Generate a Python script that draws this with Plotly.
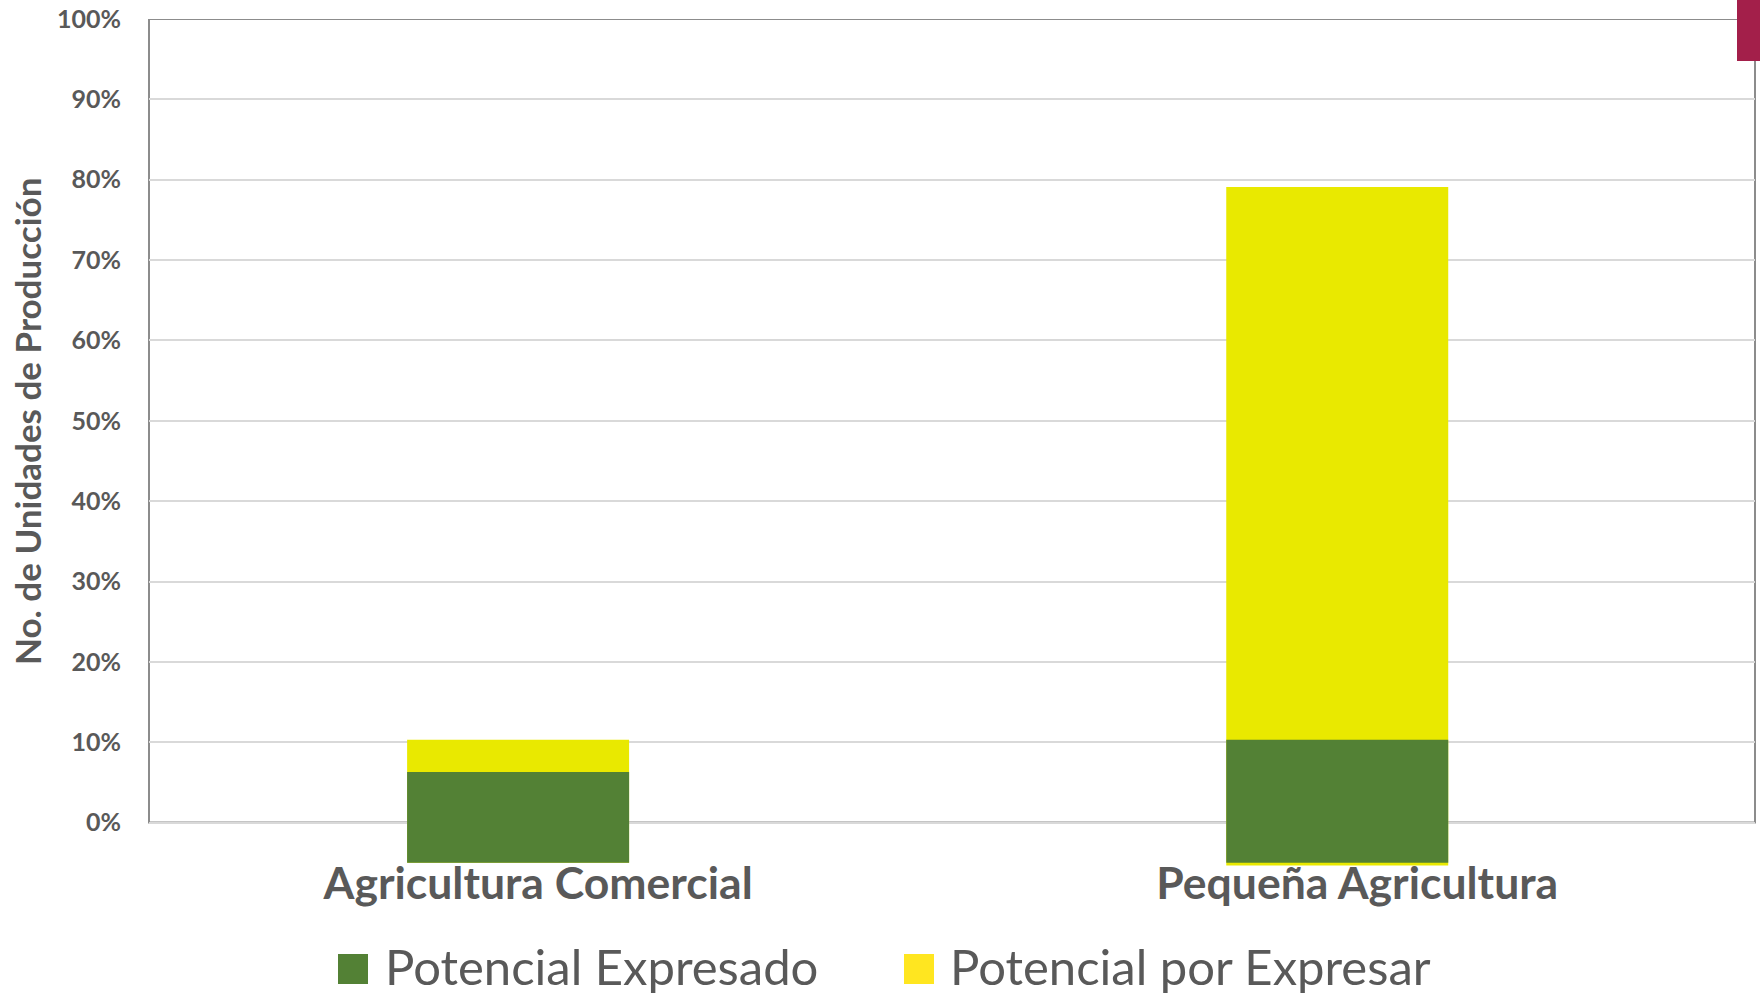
import plotly.graph_objects as go

categories = ["Agricultura Comercial", "Pequeña Agricultura"]
potencial_expresado = [6.3, 10.3]
potencial_por_expresar = [4.0, 68.8]
bar_base = [-5.0, -5.0]
yellow_base = [-5.0, -5.35]
y_ticks = [0, 10, 20, 30, 40, 50, 60, 70, 80, 90, 100]
y_ticklabels = [f"{v}%" for v in y_ticks]
legend_names = ["Potencial Expresado", "Potencial por Expresar"]
y_title = "No. de Unidades de Producción"

GREEN = "#538135"
YELLOW = "#E9E900"
LEGEND_YELLOW = "#FFE620"
TEXT = "#595959"
FONT = "Lato"

totals = [e + p for e, p in zip(potencial_expresado, potencial_por_expresar)]

fig = go.Figure()
fig.add_trace(go.Bar(
    x=categories, y=[t - b for t, b in zip(totals, yellow_base)], base=yellow_base,
    name=legend_names[1], marker=dict(color=YELLOW, line=dict(width=0)),
    width=0.271, showlegend=False))
fig.add_trace(go.Bar(
    x=categories, y=[e - b for e, b in zip(potencial_expresado, bar_base)], base=bar_base,
    name=legend_names[0], marker=dict(color=GREEN, line=dict(width=0)),
    width=0.271, showlegend=False))

W, H = 1760, 993
ml, mr, mt, mb = 149, 5, 19, 127
pw, ph = W - ml - mr, H - mt - mb

def px(x):
    return (x - ml) / pw

def py(y):
    return (H - mb - y) / ph

fig.update_layout(
    width=W, height=H, barmode="overlay",
    margin=dict(l=ml, r=mr, t=mt, b=mb, autoexpand=False),
    paper_bgcolor="white", plot_bgcolor="white",
    font=dict(family=FONT, color=TEXT),
    xaxis=dict(type="category", range=[-0.4506, 1.510], showgrid=False,
               showline=False, ticks="", zeroline=False,
               ticklabelshift=20, ticklabelstandoff=-13,
               tickfont=dict(family=FONT, size=44.5, color=TEXT, weight="bold")),
    yaxis=dict(range=[-5.4, 100], tickvals=y_ticks, ticktext=y_ticklabels,
               showgrid=True, gridcolor="#D9D9D9", gridwidth=1.5,
               zeroline=False, showline=False, ticks="",
               ticklabelstandoff=27,
               tickfont=dict(family=FONT, size=25, color=TEXT, weight="bold")),
)

# y-axis title
fig.add_annotation(xref="paper", yref="paper", x=px(27), y=py(422),
                   xanchor="center", yanchor="middle", textangle=-90, showarrow=False,
                   text=y_title, font=dict(family=FONT, size=35, color=TEXT, weight="bold"))

# frame of the plot area (0% to 100%)
fig.add_shape(type="rect", xref="paper", yref="y", x0=0, x1=1, y0=0, y1=100,
              line=dict(color="#8C8C8C", width=2), layer="between")
# decorative corner mark
fig.add_shape(type="rect", xref="paper", yref="paper", x0=px(1737), x1=px(1762),
              y0=py(61), y1=py(-2), fillcolor="#A31F4A", line=dict(width=0), layer="below")

# legend
for name, color, sx, tx in [(legend_names[0], GREEN, 338, 383),
                            (legend_names[1], LEGEND_YELLOW, 904, 948)]:
    fig.add_shape(type="rect", xref="paper", yref="paper",
                  x0=px(sx), x1=px(sx + 30), y0=py(984), y1=py(954),
                  fillcolor=color, line=dict(width=0))
    fig.add_annotation(xref="paper", yref="paper", x=px(tx), y=py(966),
                       xanchor="left", yanchor="middle", showarrow=False,
                       text=name, font=dict(family=FONT, size=49, color=TEXT))

fig.write_html("out.html", config={"displayModeBar": False},
               post_script="document.body.style.margin='0';")
